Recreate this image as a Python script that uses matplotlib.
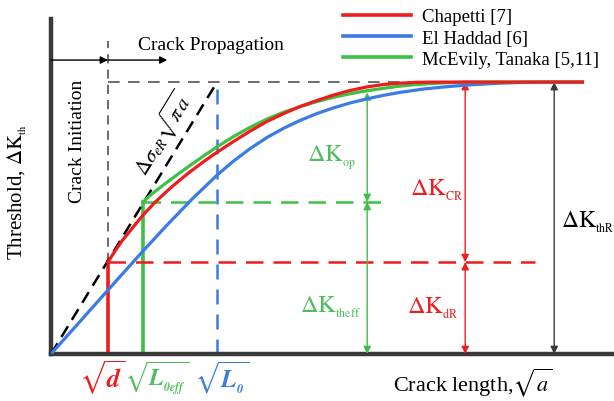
import matplotlib
matplotlib.use('Agg')
import matplotlib.pyplot as plt
from matplotlib.lines import Line2D

plt.rcParams['font.family'] = ['Liberation Serif', 'DejaVu Serif']
plt.rcParams['mathtext.fontset'] = 'stix'

# characteristic lengths (sqrt a, normalised so that sqrt(L0) = 1) and thresholds (dK_thR = 1)
d = 0.343
L0eff = 0.554
L0 = 1.0
dK_dR = 0.338
dK_theff = 0.559
dK_thR = 1.0

# Chapetti
red_x = [0.343, 0.38, 0.43, 0.49, 0.554, 0.63, 0.72, 0.82, 0.92, 1.0, 1.1, 1.2, 1.3, 1.4, 1.5,
         1.6, 1.7, 1.8, 1.9, 2.0, 2.1, 2.2, 2.3, 3.2]
red_y = [0.338, 0.374, 0.418, 0.463, 0.511, 0.560, 0.611, 0.662, 0.708, 0.742, 0.782, 0.820, 0.855,
         0.884, 0.910, 0.932, 0.952, 0.969, 0.982, 0.991, 0.996, 0.999, 1.0, 1.0]
# McEvily, Tanaka
green_x = [0.554, 0.6, 0.65, 0.7, 0.77, 0.85, 0.93, 1.0, 1.1, 1.2, 1.3, 1.4, 1.5, 1.6, 1.7, 1.8,
           1.9, 2.0, 2.1, 2.2, 2.3, 2.4, 2.5, 3.2]
green_y = [0.559, 0.585, 0.609, 0.632, 0.664, 0.699, 0.733, 0.762, 0.800, 0.834, 0.864, 0.889,
           0.910, 0.928, 0.944, 0.957, 0.968, 0.977, 0.985, 0.991, 0.995, 0.998, 1.0, 1.0]
# El Haddad
blue_x = [0, 0.2, 0.4, 0.55, 0.7, 0.85, 1.0, 1.1, 1.2, 1.3, 1.4, 1.5, 1.6, 1.7, 1.8, 1.9, 2.0,
          2.1, 2.25, 2.4, 2.55, 2.7, 2.85, 3.0, 3.2]
blue_y = [0, 0.137, 0.274, 0.376, 0.475, 0.570, 0.658, 0.710, 0.756, 0.796, 0.830, 0.859, 0.884,
          0.905, 0.923, 0.938, 0.951, 0.962, 0.975, 0.984, 0.991, 0.996, 0.999, 1.0, 1.0]

labels = ['Chapetti [7]', 'El Haddad [6]', 'McEvily, Tanaka [5,11]']

RED = '#ee1c1c'
BLUE = '#3b7be6'
GREEN = '#3ec045'
GTXT = '#4cbf5c'
DARK = '#3a3a3a'

fig = plt.figure(figsize=(6.14, 4.02), dpi=100)
ax = fig.add_axes([51/614, 47/402, 563/614, 335/402])
ax.set_xlim(0, 3.39)
ax.set_ylim(0, 1.232)
for s in ['top', 'right']:
    ax.spines[s].set_visible(False)
for s in ['left', 'bottom']:
    ax.spines[s].set_linewidth(3.2)
    ax.spines[s].set_color(DARK)
ax.set_xticks([])
ax.set_yticks([])

# guide lines
ax.plot([d, d], [dK_dR, 1.151], color='#444444', lw=1.1, dashes=(6, 4))
ax.plot([d, 2.6], [dK_thR, dK_thR], color='#555555', lw=1.2, dashes=(7, 5))
ax.plot([0, L0], [0, dK_thR], color='black', lw=1.8, dashes=(5, 3), zorder=3)
ax.plot([L0, L0], [0, dK_thR], color=BLUE, lw=1.8, dashes=(6, 4))
ax.plot([L0eff, 2.01], [dK_theff, dK_theff], color=GREEN, lw=1.8, dashes=(7, 4))
ax.plot([L0eff, L0eff], [0, dK_theff], color=GREEN, lw=2.6)
ax.plot([d, 2.916], [dK_dR, dK_dR], color=RED, lw=1.8, dashes=(7, 4))
ax.plot([d, d], [0, dK_dR], color=RED, lw=2.6)

# curves
ax.plot(blue_x, blue_y, color=BLUE, lw=2.3, zorder=4, solid_joinstyle='round')
ax.plot(green_x, green_y, color=GREEN, lw=2.3, zorder=5, solid_joinstyle='round')
ax.plot(red_x, red_y, color=RED, lw=2.3, zorder=6, solid_joinstyle='round')

def arrow(x0, y0, x1, y1, c, style='<|-|>'):
    ax.annotate('', xy=(x1, y1), xytext=(x0, y0),
                arrowprops=dict(arrowstyle=style, color=c, lw=1.0, mutation_scale=11,
                                shrinkA=0, shrinkB=0), annotation_clip=False)

# top arrows
arrow(0, 1.081, d, 1.081, 'black', '-|>')
arrow(d, 1.081, 0.70, 1.081, 'black', '-|>')
# threshold arrows
arrow(1.904, dK_theff, 1.904, 0.962, GREEN)
arrow(1.904, 0, 1.904, dK_theff, GREEN)
arrow(2.494, dK_dR, 2.494, dK_thR, RED)
arrow(2.494, 0, 2.494, dK_dR, RED)
arrow(3.03, 0, 3.03, dK_thR, DARK)

# texts
ax.text(0.964, 1.14, 'Crack Propagation', fontsize=14, ha='center', va='center')
ax.text(0.157, 0.787, 'Crack Initiation', fontsize=14, ha='center', va='center', rotation=90)
ax.text(-0.205, 0.60, r'Threshold, $\Delta\mathrm{K}_{{}_{\mathrm{th}}}$', fontsize=15,
        ha='center', va='center', rotation=90)
ax.text(0.675, 0.815, r'$\Delta\sigma_{eR}\sqrt{\pi\,a}$', fontsize=15, ha='center', va='center',
        rotation=58.6)
ax.text(0.31, -0.085, r'$\sqrt{\mathbfit{d}}$', fontsize=19, color=RED, ha='center', va='center')
ax.text(0.635, -0.085, r'$\sqrt{\mathbfit{L}_{{}_{\mathbfit{0eff}}}}$', fontsize=17, color=GTXT,
        ha='center', va='center')
ax.text(1.03, -0.085, r'$\sqrt{\mathbfit{L}_{{}_{\mathbfit{0}}}}$', fontsize=18, color=BLUE,
        ha='center', va='center')
ax.text(2.536, -0.103, r'Crack length,$\sqrt{a}$', fontsize=16, ha='center', va='center')

ax.text(1.542, 0.724, r'$\Delta\mathrm{K}_{{}_{\mathrm{op}}}$', fontsize=17.5, color=GTXT, ha='left', va='center')
ax.text(1.50, 0.176, r'$\Delta\mathrm{K}_{{}_{\mathrm{theff}}}$', fontsize=17.5, color=GTXT, ha='left', va='center')
ax.text(2.163, 0.607, r'$\Delta\mathrm{K}_{{}_{\mathrm{CR}}}$', fontsize=17.5, color=RED, ha='left', va='center')
ax.text(2.145, 0.173, r'$\Delta\mathrm{K}_{{}_{\mathrm{dR}}}$', fontsize=17.5, color=RED, ha='left', va='center')
ax.text(3.07, 0.489, r'$\Delta\mathrm{K}_{{}_{\mathrm{thR}}}$', fontsize=17, color='black', ha='left', va='center')

handles = [Line2D([], [], color=c, lw=2.6) for c in (RED, BLUE, GREEN)]
fig.legend(handles, labels, loc='upper left', bbox_to_anchor=(343/614, 1 - 9/402),
           frameon=False, fontsize=13.5, handlelength=3.6, handletextpad=0.6,
           labelspacing=0.23, borderpad=0, borderaxespad=0)

fig.savefig('out.png', dpi=100)
